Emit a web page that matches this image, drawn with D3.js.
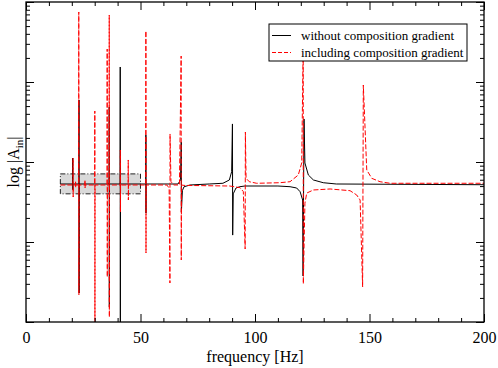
<!DOCTYPE html>
<html>
<head>
<meta charset="utf-8">
<script src="https://cdn.jsdelivr.net/npm/d3@7"></script>
<style>
  body { margin: 0; background: #fff; }
  svg { display: block; }
  text { font-family: "Liberation Serif", "Times New Roman", serif; }
</style>
</head>
<body>
<div id="chart"></div>
<script>
// x ticks (Hz) and y decades of |A| (log axis, no labels)
const freqTicks = [0, 50, 100, 150, 200];
const freqMinor = [10, 20, 30, 40, 60, 70, 80, 90, 110, 120, 130, 140, 160, 170, 180, 190];
const ampDecades = [0.01, 0.1, 1, 10, 100];

// shaded region: [f0, f1, A0, A1]
const zoomBox = [15, 50, 0.40, 0.71];

// [frequency, |A|]
const withoutGradient = [
    [15, 0.531],
    [20.3, 0.531], [20.4, 1.12], [20.45, 0.45], [20.5, 0.531],
    [23.1, 0.531], [23.15, 5.96], [23.2, 0.023], [23.25, 0.531],
    [36.3, 0.531], [36.35, 4.87], [36.4, 0.0154], [36.45, 0.531],
    [41.1, 0.531], [41.15, 15.4], [41.2, 0.004], [41.25, 0.531],
    [52.3, 0.531], [52.35, 2.18], [52.4, 0.23], [52.45, 0.531],
    [66.4, 0.531], [67.5, 0.60], [67.8, 1.78], [67.85, 0.237], [68.3, 0.44], [69, 0.49], [71.6, 0.516], [80, 0.531],
    [86.0, 0.542], [88.8, 0.596], [89.8, 0.756], [90.15, 2.99], [90.25, 0.122], [90.5, 0.40],
    [91.7, 0.473], [93.4, 0.491], [95.6, 0.501], [110, 0.501],
    [115.3, 0.491], [118.2, 0.473], [119.7, 0.425], [120.8, 0.335], [121.0, 0.0376], [121.4, 3.45],
    [121.8, 0.972], [123.3, 0.688], [125.5, 0.596], [129.8, 0.551], [135.5, 0.531], [200, 0.52]
];

const withGradient = [
    [15, 0.516],
    [20.5, 0.516], [20.55, 1.12], [20.6, 0.365], [20.65, 0.516],
    [21.6, 0.516], [21.65, 0.58], [21.7, 0.48], [21.75, 0.516],
    [23.0, 0.516], [23.05, 75.0], [23.1, 0.0218], [23.15, 0.516],
    [25.7, 0.516], [25.75, 0.596], [25.8, 0.473], [25.85, 0.516],
    [30.0, 0.516], [30.05, 4.34], [30.1, 0.004], [30.15, 0.516],
    [35.4, 0.516], [35.45, 25.8], [35.5, 0.0365], [35.55, 0.516],
    [36.3, 0.516], [36.35, 68.8], [36.4, 0.0115], [36.45, 0.516],
    [41.15, 0.516], [41.2, 1.41], [41.25, 0.237], [41.3, 0.516],
    [44.6, 0.516], [44.65, 1.06], [44.7, 0.335], [44.75, 0.516],
    [52.3, 0.516], [52.35, 43.4], [52.4, 0.0729], [52.45, 0.516],
    [61.5, 0.516], [62.5, 0.473], [62.85, 0.0307], [62.9, 2.24], [63.3, 0.57], [64.5, 0.516],
    [67.0, 0.516], [67.75, 21.1], [67.8, 0.0596], [67.9, 0.516], [69, 0.51],
    [89.0, 0.501], [93.4, 0.478], [94.9, 0.427], [95.7, 0.0818], [95.8, 2.37],
    [96.1, 0.625], [97.5, 0.567], [100.7, 0.542], [110.9, 0.551],
    [115.3, 0.567], [118.9, 0.688], [120.4, 0.972], [121.05, 30], [121.1, 0.03],
    [121.8, 0.305], [122.6, 0.409], [125.5, 0.447], [132.8, 0.46], [141.5, 0.438],
    [144.4, 0.387], [145.9, 0.335], [147.0, 0.0274], [147.3, 9.17],
    [148.8, 0.794], [151.0, 0.625], [154.6, 0.567], [159, 0.542], [200, 0.542]
];

const margin = { top: 2, right: 14, bottom: 46, left: 26 };
const width = 498 - margin.left - margin.right;
const height = 368 - margin.top - margin.bottom;

const svg = d3.select("#chart").append("svg")
    .attr("width", 498)
    .attr("height", 368)
    .append("g")
    .attr("transform", `translate(${margin.left},${margin.top})`);

const x = d3.scaleLinear().domain([0, 200]).range([0, width]);
const y = d3.scaleLog().domain([0.01, 100]).range([height, 0]);

svg.append("clipPath").attr("id", "plot-clip")
    .append("rect").attr("width", width).attr("height", height);

// shaded inset region
svg.append("rect")
    .attr("x", x(zoomBox[0]))
    .attr("y", y(zoomBox[3]))
    .attr("width", x(zoomBox[1]) - x(zoomBox[0]))
    .attr("height", y(zoomBox[2]) - y(zoomBox[3]))
    .attr("fill", "#d9d9d9")
    .attr("stroke", "#222")
    .attr("stroke-width", 1)
    .attr("stroke-dasharray", "5,2,1,2");

const line = d3.line().x(d => x(d[0])).y(d => y(d[1]));

const plot = svg.append("g").attr("clip-path", "url(#plot-clip)");

plot.append("path")
    .datum(withoutGradient)
    .attr("fill", "none")
    .attr("stroke", "#000")
    .attr("stroke-width", 1)
    .attr("d", line);

plot.append("path")
    .datum(withGradient)
    .attr("fill", "none")
    .attr("stroke", "#ff0000")
    .attr("stroke-width", 1)
    .attr("stroke-dasharray", "5,2")
    .attr("d", line);

// minor log ticks 2..9 in each decade
const ampMinor = [];
ampDecades.slice(0, -1).forEach(d => {
    for (let k = 2; k <= 9; k++) ampMinor.push(d * k);
});

function clean(g) {
    g.select(".domain").remove();
    g.selectAll(".tick line").attr("stroke", "#000");
}

svg.append("g")
    .attr("transform", `translate(0,${height})`)
    .call(d3.axisBottom(x).tickValues(freqTicks).tickSizeInner(-8).tickSizeOuter(0).tickPadding(10))
    .call(clean)
    .call(g => g.selectAll("text")
        .style("font-size", "16px")
        .style("font-family", "'Liberation Serif', serif")
        .attr("fill", "#000"));

svg.append("g")
    .attr("transform", `translate(0,${height})`)
    .call(d3.axisBottom(x).tickValues(freqMinor).tickSize(-4).tickFormat(""))
    .call(clean);

svg.append("g")
    .call(d3.axisTop(x).tickValues(freqTicks).tickSize(-8).tickFormat(""))
    .call(clean);

svg.append("g")
    .call(d3.axisTop(x).tickValues(freqMinor).tickSize(-4).tickFormat(""))
    .call(clean);

svg.append("g")
    .call(d3.axisLeft(y).tickValues(ampDecades).tickSize(-8).tickFormat(""))
    .call(clean);

svg.append("g")
    .call(d3.axisLeft(y).tickValues(ampMinor).tickSize(-4).tickFormat(""))
    .call(clean);

svg.append("g")
    .attr("transform", `translate(${width},0)`)
    .call(d3.axisRight(y).tickValues(ampDecades).tickSize(-8).tickFormat(""))
    .call(clean);

svg.append("g")
    .attr("transform", `translate(${width},0)`)
    .call(d3.axisRight(y).tickValues(ampMinor).tickSize(-4).tickFormat(""))
    .call(clean);

// frame
svg.append("rect")
    .attr("width", width)
    .attr("height", height)
    .attr("fill", "none")
    .attr("stroke", "#000")
    .attr("stroke-width", 1.3);

svg.append("text")
    .attr("x", width / 2)
    .attr("y", height + 40)
    .attr("text-anchor", "middle")
    .style("font-size", "16px")
    .text("frequency [Hz]");

const yLabel = svg.append("text")
    .attr("transform", `translate(${-7},${height / 2}) rotate(-90)`)
    .attr("text-anchor", "middle")
    .style("font-size", "16px");
yLabel.append("tspan").text("log |A");
yLabel.append("tspan").attr("dy", 4).style("font-size", "11px").text("in");
yLabel.append("tspan").attr("dy", -4).text("|");

// legend
const legend = svg.append("g").attr("transform", "translate(243,22)");
legend.append("rect")
    .attr("width", 198)
    .attr("height", 37)
    .attr("fill", "#fff")
    .attr("stroke", "#000")
    .attr("stroke-width", 1);

const legendItems = [
    { label: "without composition gradient", color: "#000", dash: null },
    { label: "including composition gradient", color: "#ff0000", dash: "4,2" }
];

legendItems.forEach((d, i) => {
    const yy = 11.5 + i * 17;
    legend.append("line")
        .attr("x1", 3).attr("x2", 22)
        .attr("y1", yy).attr("y2", yy)
        .attr("stroke", d.color)
        .attr("stroke-width", 1)
        .attr("stroke-dasharray", d.dash);
    legend.append("text")
        .attr("x", 32)
        .attr("y", yy + 4.5)
        .style("font-size", "13px")
        .text(d.label);
});
</script>
</body>
</html>
